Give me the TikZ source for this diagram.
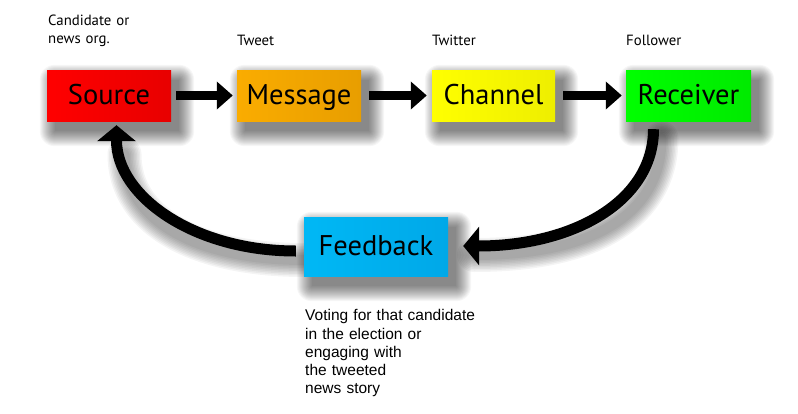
\documentclass[tikz,border=0pt]{standalone}
\usepackage{fontspec}
\setmainfont{PT Sans}
\newfontfamily\helv{Liberation Sans}
\usetikzlibrary{arrows.meta,backgrounds}
\definecolor{srcL}{HTML}{FF0000}
\definecolor{srcR}{HTML}{E80000}
\definecolor{msgL}{HTML}{FAAC00}
\definecolor{msgR}{HTML}{E89E00}
\definecolor{chnL}{HTML}{FFFF00}
\definecolor{chnR}{HTML}{EEEE00}
\definecolor{rcvL}{HTML}{00FF00}
\definecolor{rcvR}{HTML}{00EA00}
\definecolor{fbL}{HTML}{00B8F5}
\definecolor{fbR}{HTML}{00A8E8}
\begin{document}
\begin{tikzpicture}[x=1pt,y=-1pt,
  box/.style={rectangle, inner sep=0pt, text height=20pt, text depth=3pt,
    minimum height=51pt, font=\fontsize{28.5}{32}\selectfont},
  lbl/.style={anchor=base west, inner sep=0pt, text width=120pt, align=left,
    font=\fontsize{14.8}{18}\selectfont},
  note/.style={anchor=base west, inner sep=0pt, text width=200pt, align=left,
    font=\helv\fontsize{15.5}{18.3}\selectfont},
  flow/.style={line width=8.5pt, -{Triangle[length=16pt,width=27pt]}},
  back/.style={line width=11pt, -{Triangle[length=16pt,width=38pt]}},
  arcshadow/.style={black, opacity=0.045, line cap=round,
    transform canvas={xshift=8pt,yshift=-9pt}},
  boxshadow/.style={black, opacity=0.035}
]
\useasboundingbox (0,0) rectangle (798,413);

% boxes
\node[box, minimum width=124pt, left color=srcL, right color=srcR] (src) at (109,95.5) {Source};
\node[box, minimum width=124pt, left color=msgL, right color=msgR] (msg) at (299,95.5) {Message};
\node[box, minimum width=123pt, left color=chnL, right color=chnR] (chn) at (493.5,95.5) {Channel};
\node[box, minimum width=125pt, left color=rcvL, right color=rcvR] (rcv) at (688.5,95.5) {Receiver};
\node[box, minimum width=144pt, minimum height=59pt, left color=fbL, right color=fbR] (fb) at (376,246.5) {Feedback};

% labels
\node[lbl] (lsrc) at (48,25) {Candidate or\\news org.};
\node[lbl] (lmsg) at (237,45) {Tweet};
\node[lbl] (lchn) at (432,45) {Twitter};
\node[lbl] (lrcv) at (626,45) {Follower};
\node[note] (lfb) at (305,320.7) {Voting for that candidate\\in the election or\\engaging with\\the tweeted\\news story};

% shadows
\begin{scope}[on background layer]
  \fill[white] (0,0) rectangle (798,413);
  \foreach \n in {src,msg,chn,rcv,fb}{
    \foreach \r in {0,1,...,15}{
      \fill[boxshadow, rounded corners=\r pt]
        ([shift={({8-\r},{10-\r})}]\n.north west) rectangle
        ([shift={({8+\r},{10+\r})}]\n.south east);
    }
  }
  \foreach \w in {34,31,...,10}{
    \draw[arcshadow, line width=\w pt]
      ([shift={(-35,8)}]rcv.south) .. controls +(0,72) and +(125,0) .. ([shift={(18,-0.5)}]fb.east);
    \draw[arcshadow, line width=\w pt]
      ([shift={(-8,4.5)}]fb.west) .. controls +(-102,0) and +(0,70) .. ([shift={(7.5,24)}]src.south);
  }
\end{scope}

% straight connectors
\draw[flow, shorten <=5pt, shorten >=4pt] (src) -- (msg);
\draw[flow, shorten <=8pt, shorten >=5pt] (msg) -- (chn);
\draw[flow, shorten <=8pt, shorten >=4pt] (chn) -- (rcv);

% feedback loop
\draw[back, shorten <=8pt, shorten >=15pt]
  ([shift={(-35,0)}]rcv.south) .. controls +(0,80) and +(125,0) .. ([shift={(0,-0.5)}]fb.east);
\draw[back, shorten <=8pt, shorten >=4pt]
  ([shift={(0,4.5)}]fb.west) .. controls +(-110,0) and +(0,75) .. ([shift={(7.5,0)}]src.south);
\end{tikzpicture}
\end{document}
